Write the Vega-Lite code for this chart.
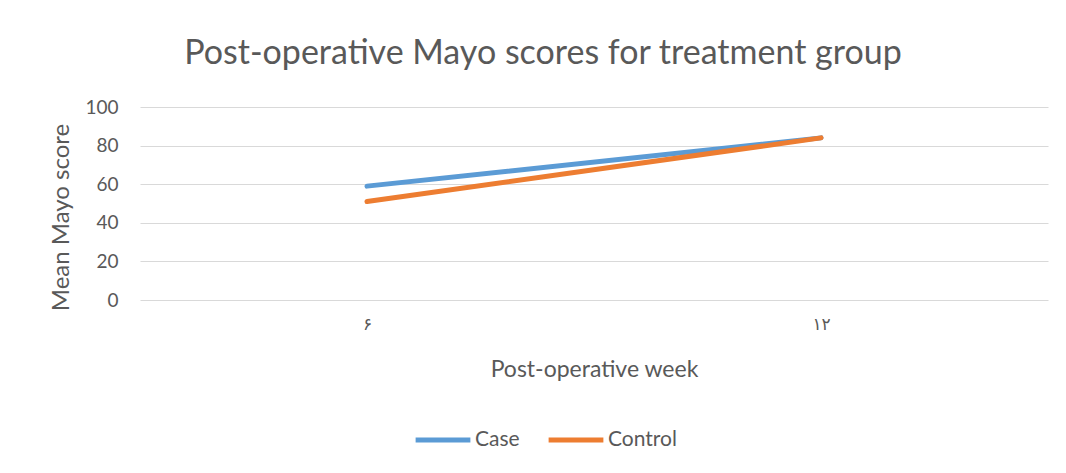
{
  "$schema": "https://vega.github.io/schema/vega-lite/v6.json",
  "autosize": "none",
  "width": 908,
  "height": 193,
  "padding": {"left": 140, "top": 107, "right": 18, "bottom": 173},
  "background": "white",
  "title": {
    "text": "Post-operative Mayo scores for treatment group",
    "fontSize": 34,
    "font": "Lato, DejaVu Sans",
    "fontWeight": "normal",
    "color": "#595959",
    "anchor": "middle",
    "dx": -51,
    "offset": 27
  },
  "data": {
    "values": [
      {"week": "۶", "order": 1, "group": "Case", "score": 59},
      {"week": "۱۲", "order": 2, "group": "Case", "score": 84},
      {"week": "۶", "order": 1, "group": "Control", "score": 51},
      {"week": "۱۲", "order": 2, "group": "Control", "score": 84}
    ]
  },
  "mark": {"type": "line", "strokeWidth": 5, "strokeCap": "round"},
  "encoding": {
    "x": {
      "field": "week",
      "type": "ordinal",
      "sort": {"field": "order"},
      "scale": {"type": "point", "padding": 0.5},
      "axis": {
        "title": "Post-operative week",
        "titleFontSize": 23,
        "titleFont": "Lato, DejaVu Sans",
        "titleFontWeight": "normal",
        "titleColor": "#595959",
        "titlePadding": 26,
        "labelFontSize": 17,
        "labelFont": "DejaVu Sans",
        "labelColor": "#595959",
        "labelAngle": 0,
        "labelPadding": 16,
        "ticks": false,
        "domain": false,
        "grid": false
      }
    },
    "y": {
      "field": "score",
      "type": "quantitative",
      "scale": {"domain": [0, 100]},
      "axis": {
        "title": "Mean Mayo score",
        "titleFontSize": 24,
        "titleFont": "Lato, DejaVu Sans",
        "titleFontWeight": "normal",
        "titleColor": "#595959",
        "titlePadding": 11,
        "titleY": 110,
        "titleBaseline": "bottom",
        "values": [0, 20, 40, 60, 80, 100],
        "labelFontSize": 19,
        "labelFont": "Lato, DejaVu Sans",
        "labelColor": "#595959",
        "labelPadding": 22,
        "ticks": false,
        "domain": false,
        "gridColor": "#d9d9d9",
        "gridWidth": 1.2
      }
    },
    "color": {
      "field": "group",
      "type": "nominal",
      "scale": {"domain": ["Case", "Control"], "range": ["#5B9BD5", "#ED7D31"]},
      "legend": {
        "title": null,
        "orient": "none",
        "legendX": 273,
        "legendY": 303,
        "direction": "horizontal",
        "symbolType": "stroke",
        "symbolSize": 3000,
        "symbolStrokeWidth": 5,
        "labelFontSize": 21,
        "labelFont": "Lato, DejaVu Sans",
        "labelColor": "#595959",
        "columnPadding": 18,
        "labelOffset": 2
      }
    }
  },
  "config": {"view": {"stroke": null}}
}
